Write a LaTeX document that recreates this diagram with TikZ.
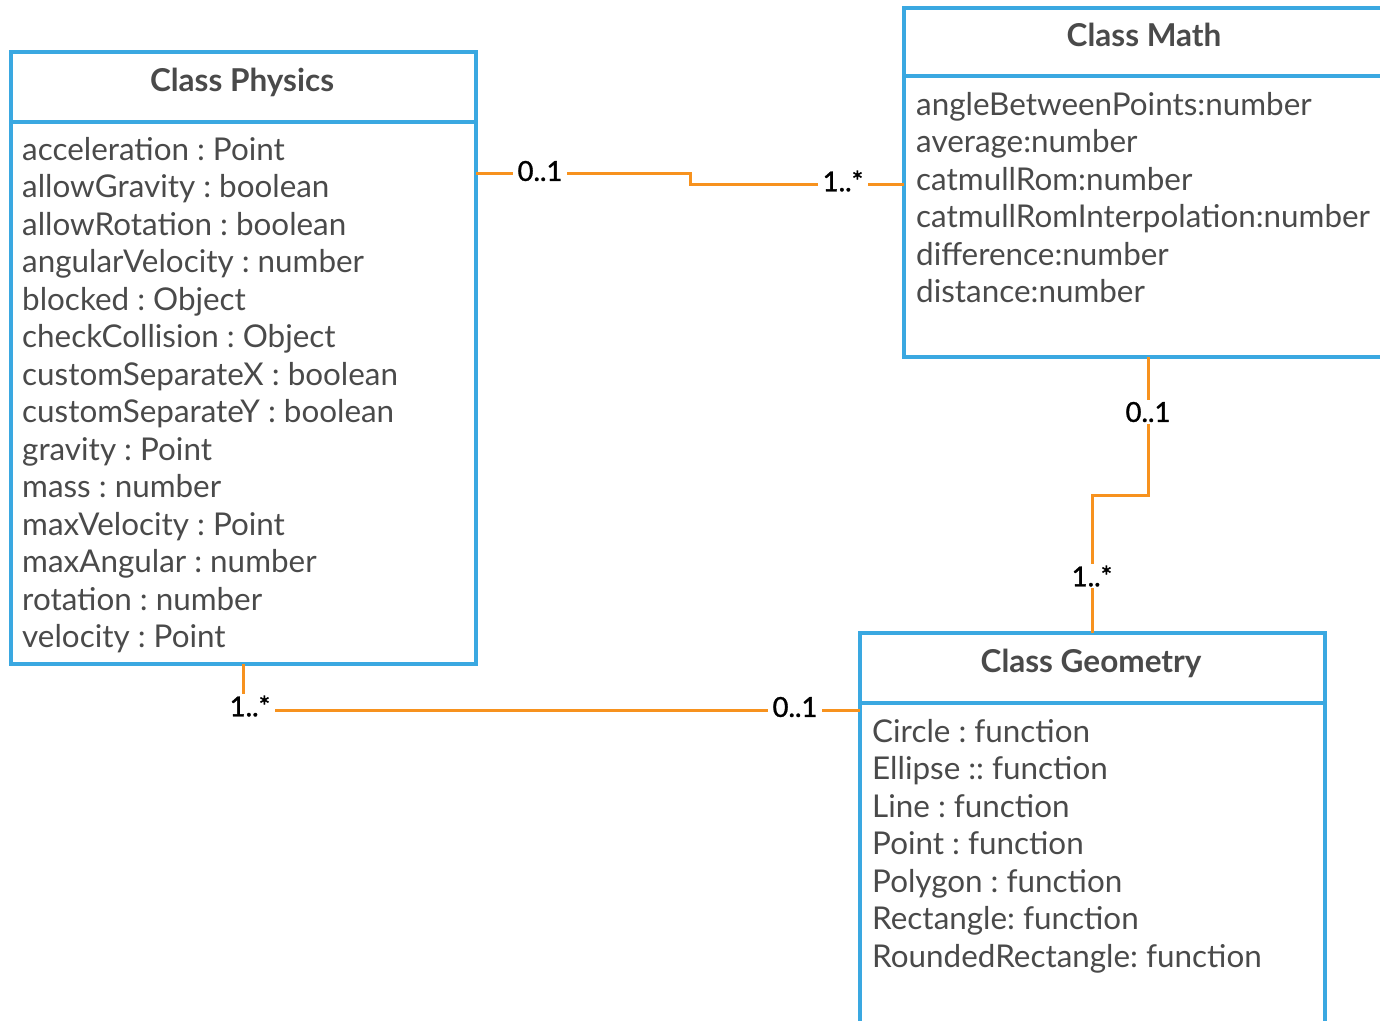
\documentclass[tikz,border=0pt]{standalone}
\usepackage{fontspec}
\setmainfont{Lato}
\newfontfamily\multfont{Lato}[FakeBold=1.2]
\definecolor{umlblue}{HTML}{3AA8E1}
\definecolor{umltext}{HTML}{4A4A4A}
\definecolor{assoc}{HTML}{F7921E}

\begin{document}
\frenchspacing
\begin{tikzpicture}[x=1pt,y=-1pt,
  classbox/.style={draw=umlblue, line width=3.5pt, anchor=north west, inner sep=0pt, outer sep=0pt},
  divider/.style={draw=umlblue, line width=3.5pt},
  title/.style={font=\fontsize{31.5}{36}\selectfont\bfseries, text=umltext, anchor=base, inner sep=0pt},
  attr/.style={font=\fontsize{31.4}{36}\selectfont, text=umltext, anchor=base west, inner sep=0pt},
  link/.style={draw=assoc, line width=3pt},
  mult/.style={font=\multfont\fontsize{27.5}{30}\selectfont, text=black, fill=white, inner xsep=5pt, inner ysep=2pt}]

  \useasboundingbox (0,0) rectangle (1380,1020);
  \clip (0,0) rectangle (1380,1020);

  % Class Physics
  \node[classbox, minimum width=465pt, minimum height=612pt] (phys) at (11,52) {};
  \draw[divider] ([yshift=-70pt]phys.north west) -- ([yshift=-70pt]phys.north east);
  \node[title] (physT) at (242,91) {Class Physics};
  \foreach \t [count=\i] in {acceleration : Point, allowGravity : boolean,
      allowRotation : boolean, angularVelocity : number, blocked : Object,
      checkCollision : Object, customSeparateX : boolean, customSeparateY : boolean,
      gravity : Point, mass : number, maxVelocity : Point, maxAngular : number,
      rotation : number, velocity : Point}
    \node[attr] (pa\i) at (22,{160+37.5*(\i-1)}) {\t};

  % Class Math
  \node[classbox, minimum width=480pt, minimum height=349pt] (math) at (904,8) {};
  \draw[divider] ([yshift=-68pt]math.north west) -- ([yshift=-68pt]math.north east);
  \node[title] (mathT) at (1144,46) {Class Math};
  \foreach \t [count=\i] in {angleBetweenPoints:number, average:number,
      catmullRom:number, catmullRomInterpolation:number, difference:number,
      distance:number}
    \node[attr] (ma\i) at (916,{115+37.5*(\i-1)}) {\t};

  % Class Geometry
  \node[classbox, minimum width=465pt, minimum height=420pt] (geom) at (860,633) {};
  \draw[divider] ([yshift=-70pt]geom.north west) -- ([yshift=-70pt]geom.north east);
  \node[title] (geomT) at (1091,672) {Class Geometry};
  \foreach \t [count=\i] in {Circle : function, Ellipse :: function,
      Line : function, Point : function, Polygon : function,
      Rectangle: function, RoundedRectangle: function}
    \node[attr] (ga\i) at (872,{742+37.5*(\i-1)}) {\t};

  % Associations
  \draw[link] (phys.east |- 0,173) -- (690,173) -- (690,184) -- (math.west |- 0,184);
  \node[mult] (pm1) at (540,171) {0..1};
  \node[mult] (pm2) at (843,181) {1..*};

  \draw[link] (1148,0 |- math.south) -- (1148,495) -- (1092,495) -- (1092,0 |- geom.north);
  \node[mult] (mg1) at (1148,412) {0..1};
  \node[mult] (mg2) at (1092,576) {1..*};

  \draw[link] (243,0 |- phys.south) -- (243,710) -- (geom.west |- 0,710);
  \node[mult] (pg1) at (250,706) {1..*};
  \node[mult] (pg2) at (795,707) {0..1};
\end{tikzpicture}
\end{document}
